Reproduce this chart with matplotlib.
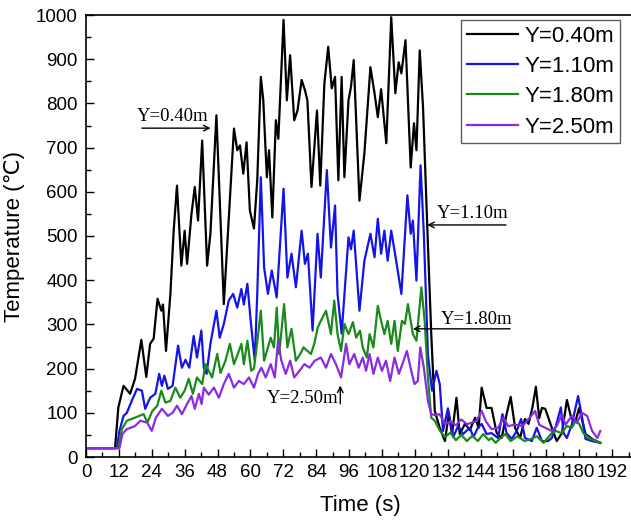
import numpy as np
import matplotlib.pyplot as plt
from matplotlib.ticker import MultipleLocator

# --- datos (tiempo en s, temperatura en C) ---
t_040 = [0, 10.6, 11.8, 13.7, 16.1, 17.9, 20.2, 22.0, 23.4, 24.7, 26.1, 27.5, 28.1, 29.2, 30.8,
         32.0, 33.2, 34.8, 36.0, 36.9, 38.5, 39.7, 40.9, 42.4, 44.2, 45.4, 47.6, 50.3, 54.0, 55.2,
         56.2, 57.4, 58.6, 59.8, 61.3, 62.5, 63.8, 64.7, 66.0, 66.8, 68.0, 69.3, 70.2, 72.1, 73.3,
         74.5, 76.0, 77.2, 78.7, 79.9, 80.8, 82.3, 84.3, 85.5, 87.0, 88.4, 89.7, 90.9, 92.1, 93.3,
         94.3, 95.8, 96.7, 97.7, 99.8, 101.6, 103.8, 105.3, 106.5, 107.7, 109.6, 111.4, 112.9, 114.1,
         115.1, 116.6, 118.5, 119.7, 120.6, 121.8, 123.0, 124.5, 126.0, 127.3, 129.1, 131.0, 132.4,
         133.6, 135.2, 136.4, 138.3, 140.1, 142.0, 143.3, 144.4, 146.2, 148.0, 149.9, 151.7, 153.5,
         155.0, 156.6, 158.4, 160.2, 161.5, 162.9, 164.2, 165.4, 166.4, 167.6, 168.8, 170.0, 171.8,
         173.7, 175.5, 177.1, 178.6, 180.0, 182.3, 184.7, 187.7]
T_040 = [20, 20, 112, 161, 143, 177, 265, 181, 256, 268, 358, 331, 345, 240, 369,
         512, 614, 433, 512, 437, 550, 611, 535, 716, 433, 505, 773, 346, 743, 694,
         705, 641, 712, 558, 517, 626, 860, 807, 633, 694, 542, 762, 720, 989, 807,
         909, 762, 784, 853, 830, 807, 611, 784, 614, 845, 928, 834, 860, 626, 860,
         633, 807, 837, 898, 580, 687, 882, 823, 769, 832, 710, 995, 823, 893,
         868, 943, 655, 755, 694, 920, 792, 530, 279, 104, 66, 36, 97,
         52, 134, 52, 75, 61, 89, 66, 157, 111, 111, 54, 43, 97,
         136, 66, 43, 86, 75, 111, 159, 88, 111, 109, 88, 66, 36,
         54, 129, 88, 80, 111, 52, 41, 32]

t_110 = [0, 11.3, 12.2, 13.7, 14.9, 16.7, 18.6, 20.4, 21.6, 23.4, 25.3, 26.7, 27.7, 28.6, 29.9,
         31.6, 33.6, 35.0, 36.3, 37.7, 39.3, 40.5, 42.1, 43.0, 44.0, 45.4, 47.6, 48.8, 50.3, 52.1,
         53.7, 55.2, 56.7, 57.6, 58.9, 60.1, 61.6, 62.5, 63.8, 65.0, 66.4, 67.8, 69.6, 72.1, 73.5,
         75.0, 76.6, 78.7, 79.9, 81.0, 82.7, 84.5, 85.7, 87.9, 89.4, 90.9, 91.8, 93.3, 95.8, 96.7,
         97.7, 99.8, 101.6, 103.8, 105.3, 106.5, 107.7, 108.9, 110.1, 111.4, 113.2, 115.1, 117.3,
         118.5, 119.3, 120.6, 122.1, 123.3, 124.8, 126.3, 127.9, 129.1, 130.3, 132.1, 134.0, 135.8,
         137.6, 140.1, 141.4, 143.0, 144.4, 146.2, 148.0, 150.4, 152.0, 153.5, 155.4, 157.2, 158.8,
         160.2, 162.7, 164.5, 166.4, 168.6, 170.0, 171.3, 173.3, 174.3, 175.5, 177.3, 179.6, 181.0,
         182.3, 184.7, 187.7]
T_110 = [20, 20, 59, 93, 100, 127, 154, 150, 109, 134, 143, 188, 161, 184, 154,
         161, 252, 202, 220, 202, 274, 225, 286, 202, 188, 256, 331, 270, 301, 354,
         369, 338, 380, 345, 392, 308, 218, 369, 633, 429, 369, 422, 361, 607, 406,
         460, 384, 512, 437, 460, 286, 505, 406, 649, 474, 569, 369, 279, 497, 470,
         512, 331, 444, 505, 452, 539, 460, 512, 444, 512, 444, 369, 592,
         505, 535, 399, 660, 505, 230, 150, 195, 165, 59, 110, 45, 70,
         52, 66, 45, 66, 75, 52, 54, 43, 97, 54, 41, 59, 86,
         43, 36, 66, 36, 36, 43, 66, 112, 54, 43, 73, 138, 91,
         41, 36, 32]

t_180 = [0, 11.8, 13.1, 14.9, 17.9, 21.0, 22.4, 24.2, 26.0, 27.5, 29.0, 30.8, 32.6, 34.4, 36.0,
         37.5, 39.0, 40.5, 42.4, 43.6, 44.8, 46.0, 47.9, 49.1, 50.9, 52.5, 54.0, 55.4, 56.7, 57.6,
         58.9, 60.3, 61.3, 62.5, 63.8, 65.0, 66.4, 67.4, 68.6, 69.6, 70.5, 72.3, 73.5, 75.0, 76.6,
         78.2, 79.4, 80.8, 82.1, 83.3, 84.6, 85.7, 87.6, 89.4, 90.6, 91.8, 93.1, 94.3, 95.8, 97.4,
         98.6, 100.0, 101.0, 102.5, 103.5, 104.9, 106.5, 107.7, 108.9, 110.1, 111.4, 112.6, 113.8,
         115.3, 116.4, 117.5, 119.3, 120.6, 122.4, 123.6, 124.8, 126.0, 127.3, 129.0, 131.0, 133.0,
         135.0, 137.0, 139.0, 141.0, 143.0, 145.0, 147.0, 148.0, 149.5, 151.0, 153.0, 155.0, 157.5,
         160.0, 162.5, 164.5, 167.0, 170.0, 171.5, 173.5, 175.5, 177.3, 178.6, 180.0, 181.5, 183.5,
         187.7]
T_180 = [20, 20, 63, 82, 89, 97, 78, 104, 116, 150, 123, 127, 157, 134, 150,
         177, 143, 180, 165, 210, 195, 180, 233, 190, 218, 256, 210, 233, 256, 210,
         263, 195, 200, 260, 331, 218, 248, 270, 248, 338, 233, 346, 248, 290, 218,
         233, 248, 240, 233, 256, 293, 308, 331, 278, 354, 278, 240, 301, 278, 305,
         270, 286, 248, 225, 278, 248, 342, 308, 278, 308, 256, 308, 240,
         308, 301, 346, 278, 263, 384, 308, 180, 89, 82, 61, 45, 55,
         38, 50, 36, 48, 36, 52, 38, 43, 32, 41, 52, 36, 47,
         36, 41, 47, 32, 54, 59, 54, 70, 66, 80, 75, 54, 43,
         32]

t_250 = [0, 12.2, 13.3, 14.9, 17.9, 19.8, 22.3, 24.0, 25.5, 27.7, 29.9, 31.6, 33.2, 35.0, 36.9,
         38.5, 39.7, 41.2, 42.2, 43.0, 44.8, 46.7, 48.5, 50.3, 52.1, 54.0, 55.8, 57.6, 59.5, 61.3,
         62.8, 64.0, 65.6, 67.4, 68.9, 70.1, 71.3, 72.9, 74.5, 76.0, 77.9, 79.7, 81.6, 83.5, 85.7,
         87.6, 89.4, 91.2, 93.1, 94.9, 96.1, 97.9, 99.5, 101.0, 102.2, 103.5, 104.9, 106.5, 108.0,
         109.5, 111.0, 112.6, 114.2, 115.9, 117.1, 118.7, 119.9, 121.1, 122.0, 123.3, 124.8, 126.0,
         127.3, 129.0, 131.0, 133.0, 135.0, 137.0, 139.0, 141.0, 142.5, 144.4, 146.0, 148.0, 150.4,
         152.4, 154.0, 156.6, 159.3, 161.5, 163.9, 165.4, 167.6, 170.0, 171.8, 173.7, 175.0, 177.3,
         179.2, 181.0, 182.9, 184.7, 186.6, 187.7]
T_250 = [20, 20, 52, 63, 70, 82, 78, 59, 89, 109, 93, 100, 116, 97, 120,
         138, 109, 143, 120, 157, 141, 157, 134, 165, 188, 157, 172, 165, 180, 157,
         188, 202, 180, 210, 180, 263, 218, 188, 218, 180, 195, 210, 202, 218, 225,
         202, 233, 210, 180, 256, 210, 233, 202, 225, 195, 233, 188, 225, 195,
         218, 172, 225, 188, 218, 240, 195, 165, 172, 248, 202, 127, 97,
         95, 97, 75, 80, 72, 85, 74, 78, 82, 104, 80, 63, 66,
         89, 70, 73, 70, 86, 104, 73, 66, 59, 70, 97, 73, 93,
         78, 100, 93, 59, 43, 59]

etiquetas = ['Y=0.40m', 'Y=1.10m', 'Y=1.80m', 'Y=2.50m']
colores = ['black', '#1414e6', '#1a8a1a', '#8a2be2']

plt.rcParams['font.family'] = ['Liberation Sans', 'DejaVu Sans']

fig = plt.figure(figsize=(6.31, 5.21), dpi=100)
ax = fig.add_axes([86 / 631, 64 / 521, 548 / 631, 442 / 521])

series = [(t_040, T_040), (t_110, T_110), (t_180, T_180), (t_250, T_250)]
for (t, T), lab, c in zip(series, etiquetas, colores):
    ax.plot(t, T, color=c, lw=1.6, label=lab, solid_joinstyle='round')

ax.set_xlim(0, 200)
ax.set_ylim(0, 1000)
ax.xaxis.set_major_locator(MultipleLocator(12))
ax.xaxis.set_minor_locator(MultipleLocator(6))
ax.yaxis.set_major_locator(MultipleLocator(100))
ax.yaxis.set_minor_locator(MultipleLocator(50))
ax.tick_params(which='both', direction='in', top=False, right=False, labelsize=13.5, width=1)
ax.tick_params(which='major', length=6)
ax.tick_params(which='minor', length=3.5)
ax.tick_params(axis='y', pad=6)
ax.tick_params(axis='x', pad=5)
for s in ax.spines.values():
    s.set_linewidth(1.2)
ax.spines['right'].set_visible(False)

ax.set_xlabel('Time (s)', fontsize=16, labelpad=10)
ax.set_ylabel('Temperature (℃)', fontsize=16, labelpad=8)

leg = ax.legend(loc='upper right', bbox_to_anchor=(620 / 631, 1 - 20 / 521),
                bbox_transform=fig.transFigure, borderaxespad=0, fontsize=16,
                fancybox=False, edgecolor='#333333', handlelength=2.3,
                handletextpad=0.3, labelspacing=0.42, borderpad=0.25)
leg.get_frame().set_linewidth(1.0)

# anotaciones con flechas (fuente tipo Times)
serif = dict(family='Liberation Serif', fontsize=13.5)
ax.text(31.6, 771, 'Y=0.40m', ha='center', va='center', **serif)
ax.annotate('', xy=(46.5, 744), xytext=(19.4, 744),
            arrowprops=dict(arrowstyle='->', color='black', lw=1))
ax.text(141, 550, 'Y=1.10m', ha='center', va='center', **serif)
ax.annotate('', xy=(123.5, 525), xytext=(154.3, 525),
            arrowprops=dict(arrowstyle='->', color='black', lw=1))
ax.text(142.5, 312, 'Y=1.80m', ha='center', va='center', **serif)
ax.annotate('', xy=(118.3, 290), xytext=(155.8, 290),
            arrowprops=dict(arrowstyle='->', color='black', lw=1))
ax.text(92.2, 133, 'Y=2.50m', ha='right', va='center', **serif)
ax.annotate('', xy=(92.8, 168), xytext=(92.8, 114),
            arrowprops=dict(arrowstyle='->', color='black', lw=1))

plt.savefig('out.png', dpi=100)
